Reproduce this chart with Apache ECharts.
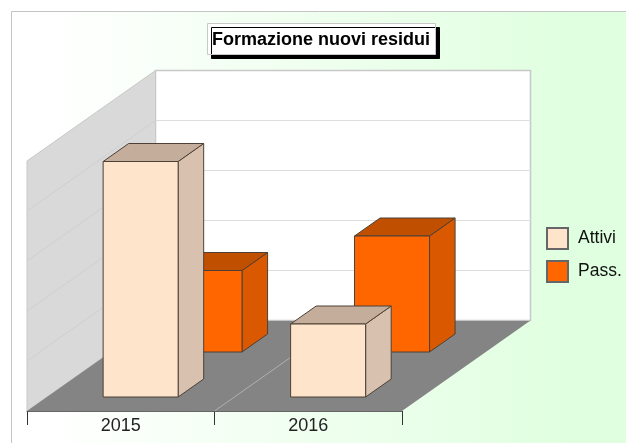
<!DOCTYPE html>
<html>
<head>
<meta charset="utf-8">
<style>html,body{margin:0;padding:0;background:#fff}#c{width:626px;height:443px}</style>
<script src="https://cdn.jsdelivr.net/npm/echarts@6/dist/echarts.min.js"></script>
</head>
<body>
<div id="c"></div>
<script>
var categories = ['2015', '2016'];
var attivi = [94.2, 29.2];
var passivi = [32.6, 46.4];
var seriesNames = ['Attivi', 'Pass.'];
var yTicks = [0, 20, 40, 60, 80, 100];
var chartTitle = 'Formazione nuovi residui';

var FONT = '"Liberation Sans", Arial, sans-serif';
var DX = 128.5, DY = 90.5;       // oblique projection of the full depth
var BAR_W = 0.4, BAR_D = 18 / 90.5;

function proj(p, z) { return [p[0] + DX * z, p[1] - DY * z]; }

function wallsItem(params, api) {
  var cs = params.coordSys;
  var x0 = cs.x, x1 = cs.x + cs.width, yb = cs.y + cs.height, yt = cs.y;
  var kids = [];
  function poly(pts, fill, stroke, lw) {
    kids.push({ type: 'polygon', shape: { points: pts }, style: { fill: fill, stroke: stroke || null, lineWidth: lw || 0 } });
  }
  function line(a, b, stroke, lw) {
    kids.push({ type: 'line', shape: { x1: a[0], y1: a[1], x2: b[0], y2: b[1] }, style: { stroke: stroke, lineWidth: lw || 1 } });
  }
  // back wall
  poly([proj([x0, yt], 1), proj([x1, yt], 1), proj([x1, yb], 1), proj([x0, yb], 1)], '#ffffff', '#c8c8c8', 1.5);
  // left wall
  poly([[x0, yt], proj([x0, yt], 1), proj([x0, yb], 1), [x0, yb]], '#d9d9d9', '#c8c8c8', 1);
  // grid lines
  yTicks.forEach(function (t, i) {
    if (i === 0 || i === yTicks.length - 1) return;
    var y = api.coord([0, t])[1];
    line([x0, y], proj([x0, y], 1), '#cfcfcf', 1);
    line(proj([x0, y], 1), proj([x1, y], 1), '#dedede', 1.2);
  });
  // floor
  poly([[x0, yb], [x1, yb], proj([x1, yb], 1), proj([x0, yb], 1)], '#848484', null, 0);
  line(proj([x0, yb], 1), proj([x1, yb], 1), '#c4c4c4', 1.2);
  // floor divider between the categories
  var mid = (x0 + x1) / 2;
  line([mid, yb], proj([mid, yb], 1), '#b0b0b0', 1);
  return { type: 'group', children: kids };
}

function barRenderer(zStart, front, top, side) {
  return function (params, api) {
    var c = api.value(0), v = api.value(1);
    var base = api.coord([c, 0]), tip = api.coord([c, v]);
    var w = api.size([1, 0])[0] * BAR_W;
    var l = base[0] - w / 2, r = base[0] + w / 2;
    var f = function (x, y, z) { return proj([x, y], z); };
    var z0 = zStart, z1 = zStart + BAR_D;
    var edge = '#4d4036';
    return {
      type: 'group',
      children: [
        { type: 'polygon', shape: { points: [f(r, tip[1], z0), f(r, tip[1], z1), f(r, base[1], z1), f(r, base[1], z0)] }, style: { fill: side, stroke: edge, lineWidth: 1 } },
        { type: 'polygon', shape: { points: [f(l, tip[1], z0), f(l, tip[1], z1), f(r, tip[1], z1), f(r, tip[1], z0)] }, style: { fill: top, stroke: edge, lineWidth: 1 } },
        { type: 'polygon', shape: { points: [f(l, tip[1], z0), f(r, tip[1], z0), f(r, base[1], z0), f(l, base[1], z0)] }, style: { fill: front, stroke: edge, lineWidth: 1 } }
      ]
    };
  };
}

function toData(values) { return values.map(function (v, i) { return [i, v]; }); }

var chart = echarts.init(document.getElementById('c'), null, { renderer: 'canvas' });
chart.setOption({
  animation: false,
  backgroundColor: '#ffffff',
  graphic: [{
    type: 'rect', z: -10, silent: true,
    shape: { x: 11.5, y: 11.5, width: 700, height: 500 },
    style: {
      stroke: '#c4c4c4', lineWidth: 1,
      fill: new echarts.graphic.LinearGradient(0, 0, 1, 0, [
        { offset: 0, color: '#ffffff' }, { offset: 0.05, color: '#ffffff' }, { offset: 0.8, color: '#e0ffe0' }, { offset: 1, color: '#e0ffe0' }
      ], false)
    }
  }],
  title: {
    text: chartTitle, left: 207, top: 23, padding: [8, 6, 6, 5],
    backgroundColor: '#ffffff', borderColor: '#c8c8c8', borderWidth: 1,
    shadowColor: '#000000', shadowOffsetX: 4, shadowOffsetY: 4, shadowBlur: 0,
    textStyle: { fontFamily: FONT, fontSize: 18, fontWeight: 'bold', color: '#000000' }
  },
  legend: {
    orient: 'vertical', left: 546, top: 227, padding: 0, itemWidth: 21, itemHeight: 21, itemGap: 10,
    icon: 'rect',
    data: seriesNames,
    textStyle: { fontFamily: FONT, fontSize: 17.5, color: '#111111', padding: [0, 0, 0, 5] }
  },
  grid: { left: 27, top: 161, width: 375, height: 250 },
  xAxis: {
    type: 'category', data: categories,
    axisLine: { show: true, lineStyle: { color: '#666666', width: 1 } },
    axisTick: { show: true, length: 14, lineStyle: { color: '#333333', width: 1 } },
    axisLabel: { fontFamily: FONT, fontSize: 18, color: '#222222', margin: 6 },
    splitLine: { show: false }
  },
  yAxis: {
    type: 'value', min: yTicks[0], max: yTicks[yTicks.length - 1], interval: yTicks[1] - yTicks[0],
    show: false, splitLine: { show: false }
  },
  series: [
    { type: 'custom', name: 'walls', z: 1, silent: true, renderItem: wallsItem, data: [[0, 0]] },
    { type: 'custom', name: seriesNames[1], z: 2, itemStyle: { color: '#ff6600', borderColor: '#666666', borderWidth: 1 },
      renderItem: barRenderer(59 / 90.5, '#ff6600', '#c05000', '#da5800'), data: toData(passivi) },
    { type: 'custom', name: seriesNames[0], z: 3, itemStyle: { color: '#ffe4cc', borderColor: '#666666', borderWidth: 1 },
      renderItem: barRenderer(14 / 90.5, '#ffe4cc', '#c4ad9b', '#d8c2af'), data: toData(attivi) }
  ]
});
</script>
</body>
</html>
